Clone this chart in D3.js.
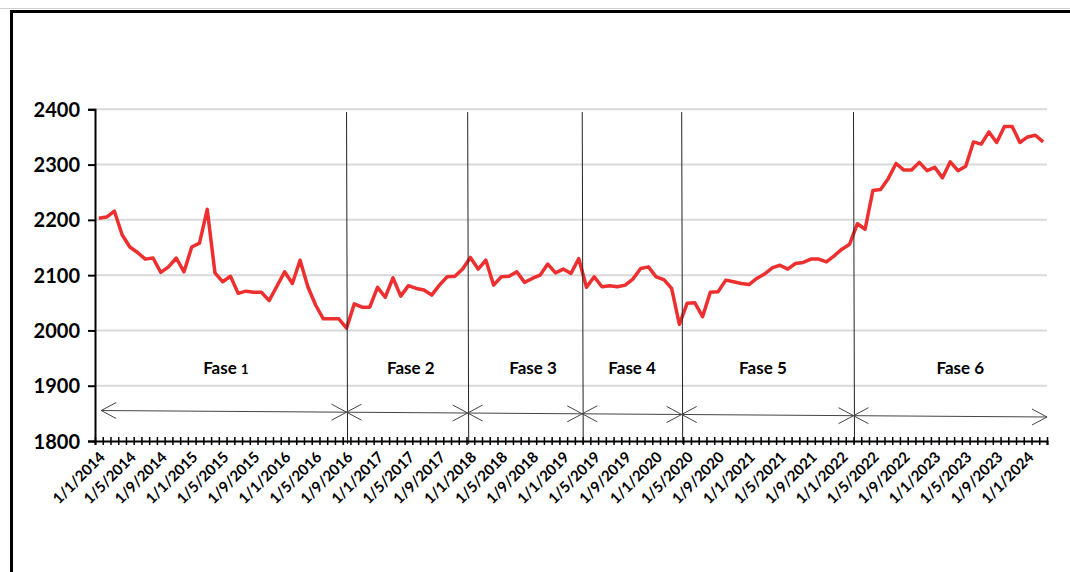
<!DOCTYPE html>
<html>
<head>
<meta charset="utf-8">
<title>Fases</title>
<script src="https://cdn.jsdelivr.net/npm/d3@7"></script>
<style>
  body { margin: 0; background: #fff; }
  svg text { font-family: Lato, "Open Sans", sans-serif; font-weight: 700; fill: #000; }
</style>
</head>
<body>
<div id="chart"></div>
<script>
// monthly values, Jan 2014 .. Mar 2024
var values = [
  2203, 2205, 2216, 2173, 2151, 2141, 2129, 2131, 2105, 2115,
  2131, 2106, 2151, 2158, 2219, 2104, 2088, 2098, 2067, 2071,
  2069, 2069, 2054, 2080, 2106, 2085, 2127, 2079, 2046, 2021,
  2021, 2021, 2004, 2048, 2042, 2042, 2078, 2060, 2095, 2062,
  2081, 2076, 2073, 2064, 2082, 2097, 2098, 2111, 2132, 2111,
  2127, 2082, 2097, 2098, 2106, 2087, 2094, 2100, 2120, 2104,
  2111, 2103, 2130, 2078, 2097, 2079, 2081, 2079, 2082, 2093,
  2112, 2115, 2097, 2092, 2076, 2011, 2049, 2050, 2025, 2069,
  2070, 2091, 2088, 2085, 2083, 2094, 2102, 2113, 2118, 2111,
  2121, 2123, 2129, 2129, 2124, 2135, 2147, 2156, 2193, 2183,
  2253, 2255, 2275, 2302, 2290, 2290, 2304, 2289, 2295, 2276,
  2305, 2289, 2297, 2341, 2337, 2359, 2340, 2369, 2369, 2340,
  2350, 2353, 2341
];

// one label every 4th month
var tickLabels = [
  "1/1/2014", "1/5/2014", "1/9/2014", "1/1/2015", "1/5/2015", "1/9/2015",
  "1/1/2016", "1/5/2016", "1/9/2016", "1/1/2017", "1/5/2017", "1/9/2017",
  "1/1/2018", "1/5/2018", "1/9/2018", "1/1/2019", "1/5/2019", "1/9/2019",
  "1/1/2020", "1/5/2020", "1/9/2020", "1/1/2021", "1/5/2021", "1/9/2021",
  "1/1/2022", "1/5/2022", "1/9/2022", "1/1/2023", "1/5/2023", "1/9/2023",
  "1/1/2024"
];

var yTicks = [1800, 1900, 2000, 2100, 2200, 2300, 2400];

var phaseNames = ["Fase 1", "Fase 2", "Fase 3", "Fase 4", "Fase 5", "Fase 6"];
// month index where each phase boundary sits
var phaseBreaks = [32, 47.65, 62.45, 75.3, 97.5];
// month index of each phase label
var phaseLabelAt = [16.4, 40.3, 56.1, 68.9, 85.8, 111.3];

var W = 1070, H = 572;
var n = values.length;

var svg = d3.select("#chart").append("svg")
    .attr("width", W)
    .attr("height", H);

// outer frame
svg.append("line")
    .attr("x1", 0).attr("x2", W).attr("y1", 8.5).attr("y2", 8.5)
    .attr("stroke", "#cfcfcf").attr("stroke-width", 1);
svg.append("path")
    .attr("d", "M11.5," + H + "V11.5H" + W)
    .attr("fill", "none").attr("stroke", "#000").attr("stroke-width", 3);

var x = d3.scaleLinear().domain([-0.5, n - 0.5]).range([95, 1047]);
var y = d3.scaleLinear().domain([1800, 2400]).range([441, 109.3]);

// gridlines
svg.append("g").selectAll("line")
    .data(yTicks.filter(function(d) { return d > 1800; }))
    .enter().append("line")
    .attr("x1", x(-0.5)).attr("x2", x(n - 0.5))
    .attr("y1", function(d) { return y(d); })
    .attr("y2", function(d) { return y(d); })
    .attr("stroke", "#d9d9d9").attr("stroke-width", 2);

// series
var line = d3.line()
    .x(function(d, i) { return x(i); })
    .y(function(d) { return y(d); });

svg.append("path")
    .datum(values)
    .attr("d", line)
    .attr("fill", "none")
    .attr("stroke", "#ee2f2f")
    .attr("stroke-width", 3.5)
    .attr("stroke-linejoin", "round");

// phase dividers
svg.append("g").selectAll("line")
    .data(phaseBreaks)
    .enter().append("line")
    .attr("x1", function(d) { return x(d); })
    .attr("x2", function(d) { return x(d) + 1; })
    .attr("y1", y(2395))
    .attr("y2", y(1800) + 3)
    .attr("stroke", "#222").attr("stroke-width", 1);

// phase arrows (slightly sloping, like the original)
var arrowY = d3.scaleLinear().domain([x(0), x(n - 0.5)]).range([410.5, 417]);
var bounds = [0.3].concat(phaseBreaks).concat([n - 0.5]);
var ag = svg.append("g").attr("stroke", "#444").attr("stroke-width", 1).attr("fill", "none");
for (var k = 0; k < phaseNames.length; k++) {
  var xa = x(bounds[k]), xb = x(bounds[k + 1]);
  var ya = arrowY(xa), yb = arrowY(xb);
  ag.append("line").attr("x1", xa).attr("y1", ya).attr("x2", xb).attr("y2", yb);
  ag.append("path").attr("d", "M" + (xa + 15) + "," + (ya - 8) + "L" + xa + "," + ya + "L" + (xa + 15) + "," + (ya + 8));
  ag.append("path").attr("d", "M" + (xb - 15) + "," + (yb - 8) + "L" + xb + "," + yb + "L" + (xb - 15) + "," + (yb + 8));
}

// phase labels
var pl = svg.append("g").selectAll("text")
    .data(phaseNames)
    .enter().append("text")
    .attr("x", function(d, i) { return x(phaseLabelAt[i]); })
    .attr("y", y(1932))
    .attr("dy", "0.35em")
    .attr("text-anchor", "middle")
    .style("font-size", "17px");
pl.each(function(d, i) {
  var t = d3.select(this);
  var parts = d.split(" ");
  t.append("tspan").text(parts[0] + " ");
  t.append("tspan").text(parts[1]).style("font-size", i === 0 ? "13px" : "17px");
});

// y axis
var yAxis = svg.append("g")
    .attr("transform", "translate(" + x(-0.5) + ",0)")
    .call(d3.axisLeft(y).tickValues(yTicks).tickSize(7).tickPadding(8).tickFormat(d3.format("d")));
yAxis.select(".domain").attr("stroke", "#000").attr("stroke-width", 2);
yAxis.selectAll(".tick line").attr("stroke", "#000").attr("stroke-width", 2);
yAxis.selectAll("text").style("font-size", "20px").attr("dy", "0.35em");

// x axis: one crossing tick per month boundary
var xAxis = svg.append("g")
    .attr("transform", "translate(0," + y(1800) + ")")
    .call(d3.axisBottom(x).tickValues(d3.range(-0.5, n, 1)).tickSize(4).tickFormat(""));
xAxis.select(".domain").attr("stroke", "#000").attr("stroke-width", 2);
xAxis.selectAll(".tick line").attr("y1", -4).attr("y2", 4).attr("stroke", "#000").attr("stroke-width", 1.5);

// x labels, rotated
svg.append("g").selectAll("text")
    .data(tickLabels)
    .enter().append("text")
    .attr("text-anchor", "end")
    .attr("transform", function(d, i) {
      return "translate(" + (x(i * 4) + 7) + "," + (y(1800) + 17) + ") rotate(-45)";
    })
    .style("font-size", "15px")
    .text(function(d) { return d; });
</script>
</body>
</html>
